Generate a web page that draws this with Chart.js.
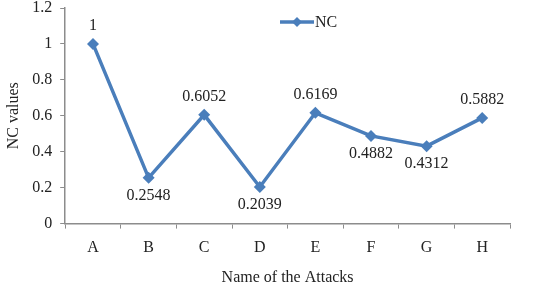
<!DOCTYPE html>
<html>
<head>
<meta charset="utf-8">
<script src="https://cdn.jsdelivr.net/npm/chart.js@4"></script>
<style>
  html, body { margin: 0; padding: 0; background: #fff; }
  #wrap { width: 536px; height: 292px; }
</style>
</head>
<body>
<div id="wrap"><canvas id="nc"></canvas></div>
<script>
var attacks = ["A", "B", "C", "D", "E", "F", "G", "H"];
var ncValues = [1, 0.2548, 0.6052, 0.2039, 0.6169, 0.4882, 0.4312, 0.5882];
var labelSide = ["above", "below", "above", "below", "above", "below", "below", "above"];
var yTicks = [0, 0.2, 0.4, 0.6, 0.8, 1, 1.2];

var blue = "#4A7EBB"
  , grey = "#8c8c8c"
  , fonts = "'Liberation Serif', 'Times New Roman', serif";

// value labels next to each point
var pointLabels = {
	id: "pointLabels",
	afterDatasetsDraw: function(chart) {
		var ctx = chart.ctx
		  , meta = chart.getDatasetMeta(0);
		ctx.save();
		ctx.font = "16px " + fonts;
		ctx.fillStyle = "#222";
		ctx.textAlign = "center";
		ctx.textBaseline = "middle";
		meta.data.forEach(function(pt, i) {
			var dy = labelSide[i] == "above" ? -18 : 18;
			ctx.fillText(String(ncValues[i]), pt.x, pt.y + dy);
		});
		ctx.restore();
	}
};

// legend drawn inside the plot, line + diamond
var innerLegend = {
	id: "innerLegend",
	afterDraw: function(chart) {
		var ctx = chart.ctx
		  , x = 280, y = 22;
		ctx.save();
		ctx.strokeStyle = blue;
		ctx.lineWidth = 3.5;
		ctx.beginPath();
		ctx.moveTo(x, y);
		ctx.lineTo(x + 34, y);
		ctx.stroke();
		ctx.fillStyle = blue;
		ctx.beginPath();
		ctx.moveTo(x + 17, y - 5);
		ctx.lineTo(x + 22, y);
		ctx.lineTo(x + 17, y + 5);
		ctx.lineTo(x + 12, y);
		ctx.closePath();
		ctx.fill();
		ctx.fillStyle = "#222";
		ctx.font = "16px " + fonts;
		ctx.textBaseline = "middle";
		ctx.fillText("NC", x + 35, y + 1);
		ctx.restore();
	}
};

new Chart(document.getElementById("nc"), {
	type: "line",
	data: {
		labels: attacks,
		datasets: [{
			label: "NC",
			data: ncValues,
			borderColor: blue,
			backgroundColor: blue,
			borderWidth: 3.5,
			pointStyle: "rectRot",
			pointRadius: 6,
			pointBorderWidth: 0,
			pointBackgroundColor: blue,
			tension: 0
		}]
	},
	options: {
		responsive: true,
		maintainAspectRatio: false,
		animation: false,
		layout: { padding: { top: 8, right: 26, bottom: 5, left: 4 } },
		plugins: {
			legend: { display: false },
			tooltip: { enabled: false }
		},
		scales: {
			x: {
				offset: true,
				grid: { offset: true, drawOnChartArea: false, drawTicks: true, tickLength: 5, color: grey },
				border: { color: grey, width: 1.5 },
				ticks: { color: "#222", font: { family: fonts, size: 16 }, padding: 10 },
				title: { display: true, text: "Name of the Attacks", color: "#222", font: { family: fonts, size: 16 }, padding: { top: 0, bottom: 0 } }
			},
			y: {
				min: 0,
				max: 1.2,
				afterBuildTicks: function(axis) {
					axis.ticks = yTicks.map(function(v) { return { value: v }; });
				},
				afterFit: function(axis) {
					axis.paddingTop = 0;
				},
				grid: { drawOnChartArea: false, drawTicks: true, tickLength: 5, color: grey },
				border: { color: grey, width: 1.5 },
				ticks: {
					color: "#222",
					font: { family: fonts, size: 16 },
					padding: 8,
					callback: function(v) { return String(v); }
				},
				title: { display: true, text: "NC values", color: "#222", font: { family: fonts, size: 16 }, padding: { top: 0, bottom: 1 } }
			}
		}
	},
	plugins: [pointLabels, innerLegend]
});
</script>
</body>
</html>
